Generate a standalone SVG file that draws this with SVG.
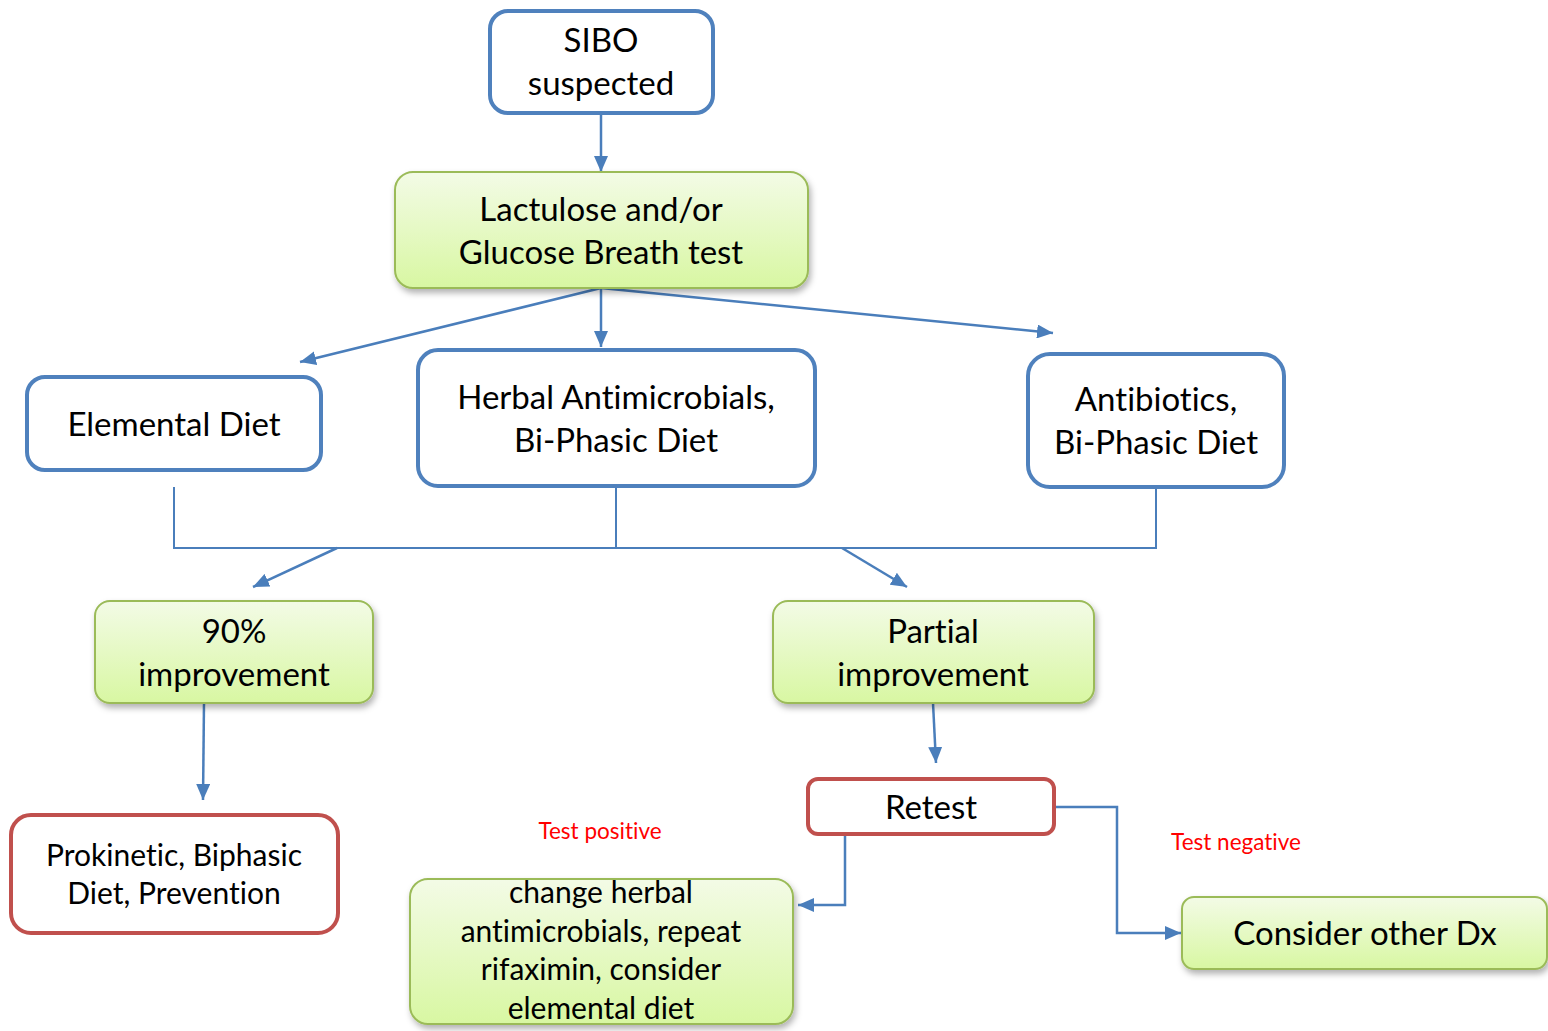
<svg xmlns="http://www.w3.org/2000/svg" width="1548" height="1031" viewBox="0 0 1548 1031">
<defs>
<linearGradient id="gr" x1="0" y1="0" x2="0" y2="1">
<stop offset="0" stop-color="#F3FBE6"/>
<stop offset="1" stop-color="#D8F7A2"/>
</linearGradient>
<filter id="sh" x="-10%" y="-10%" width="120%" height="130%">
<feDropShadow dx="2" dy="4" stdDeviation="3" flood-color="#000" flood-opacity="0.3"/>
</filter>
<marker id="ar" viewBox="0 0 16 14" refX="16" refY="7" markerWidth="16" markerHeight="14" markerUnits="userSpaceOnUse" orient="auto">
<path d="M0,0 L16,7 L0,14 z" fill="#4A7EBB"/>
</marker>
</defs>
<style>
text{font-family:Lato,"Open Sans","Liberation Sans",sans-serif;fill:#000;text-anchor:middle;font-variant-ligatures:none}
.t{font-size:33px}
.s{font-size:30px}
.lab{font-size:22.5px;fill:#FF0000}
.blue{fill:#fff;stroke:#4F81BD;stroke-width:4}
.red{fill:#fff;stroke:#C0504D;stroke-width:4}
.green{fill:url(#gr);stroke:#9BBB59;stroke-width:2;filter:url(#sh)}
.c{fill:none;stroke:#4A7EBB;stroke-width:2}
.ca{fill:none;stroke:#4A7EBB;stroke-width:2.5;marker-end:url(#ar)}
</style>
<g id="connectors">
<path class="ca" d="M601,113 L601,172"/>
<path class="ca" d="M601,288 L300,362"/>
<path class="ca" d="M601,288 L601,347"/>
<path class="ca" d="M601,288 L1053,333"/>
<path d="M601,348 L594,363 L608,363 z" fill="#4A7EBB"/>
<path class="c" d="M174,487 L174,548 L1156,548 L1156,487"/>
<path class="c" d="M616,486 L616,548"/>
<path class="ca" d="M337,548 L253,587"/>
<path class="ca" d="M842,548 L907,587"/>
<path class="ca" d="M204,703 L203,800"/>
<path class="ca" d="M933,703 L936,763"/>
<path class="c" d="M893,834 L845,834"/>
<path class="ca" d="M845,834 L845,905 L798,905"/>
<path class="ca" d="M1055,807 L1117,807 L1117,933 L1181,933"/>
</g>
<g id="sibo">
<rect class="blue" x="490" y="11" width="223" height="102" rx="18"/>
<text class="t" x="601" y="52">SIBO</text>
<text class="t" x="601" y="95">suspected</text>
</g>
<g id="breath">
<rect class="green" x="395" y="172" width="413" height="116" rx="18"/>
<text class="t" x="601" y="221">Lactulose and/or</text>
<text class="t" x="601" y="264">Glucose Breath test</text>
</g>
<g id="elemental">
<rect class="blue" x="27" y="377" width="294" height="93" rx="18"/>
<text class="t" x="174" y="436">Elemental Diet</text>
</g>
<g id="herbal">
<rect class="blue" x="418" y="350" width="397" height="136" rx="20"/>
<text class="t" x="616" y="409">Herbal Antimicrobials,</text>
<text class="t" x="616" y="452">Bi-Phasic Diet</text>
</g>
<g id="antibiotics">
<rect class="blue" x="1028" y="354" width="256" height="133" rx="22"/>
<text class="t" x="1156" y="411">Antibiotics,</text>
<text class="t" x="1156" y="454">Bi-Phasic Diet</text>
</g>
<g id="ninety">
<rect class="green" x="95" y="601" width="278" height="102" rx="15"/>
<text class="t" x="234" y="643">90%</text>
<text class="t" x="234" y="686">improvement</text>
</g>
<g id="partial">
<rect class="green" x="773" y="601" width="321" height="102" rx="15"/>
<text class="t" x="933" y="643">Partial</text>
<text class="t" x="933" y="686">improvement</text>
</g>
<g id="prokinetic">
<rect class="red" x="11" y="815" width="327" height="118" rx="20"/>
<text class="s" x="174" y="866">Prokinetic, Biphasic</text>
<text class="s" x="174" y="904">Diet, Prevention</text>
</g>
<g id="retest">
<rect class="red" x="808" y="779" width="246" height="55" rx="10"/>
<text class="t" x="931" y="819">Retest</text>
</g>
<g id="change">
<rect class="green" x="410" y="879" width="383" height="145" rx="18"/>
<text class="s" x="601" y="903">change herbal</text>
<text class="s" x="601" y="942">antimicrobials, repeat</text>
<text class="s" x="601" y="980">rifaximin, consider</text>
<text class="s" x="601" y="1019">elemental diet</text>
</g>
<g id="otherdx">
<rect class="green" x="1182" y="897" width="365" height="72" rx="12"/>
<text class="t" x="1365" y="945">Consider other Dx</text>
</g>
<g id="labels">
<text class="lab" x="600" y="839">Test positive</text>
<text class="lab" x="1236" y="850">Test negative</text>
</g>
</svg>
